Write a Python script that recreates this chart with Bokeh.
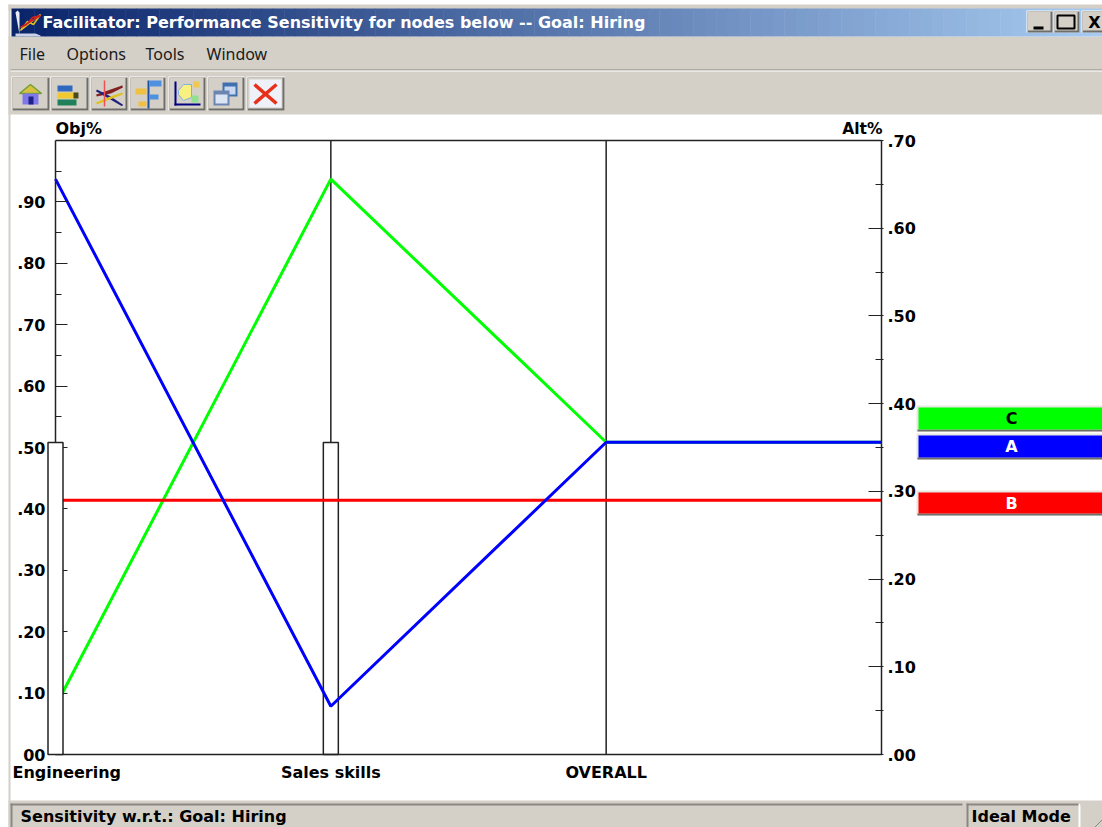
from bokeh.embed import file_html
from bokeh.resources import INLINE
from bokeh.plotting import figure
from bokeh.models import (BoxAnnotation, ColumnDataSource, FixedTicker, Label, LinearAxis,
                          PolyAnnotation, Range1d)

# ---- data ----
positions = [0, 1, 2, 3]
categories = ["Engineering", "Sales skills", "OVERALL"]
series_a = [0.656, 0.055, 0.356, 0.356]
series_b = [0.290, 0.290, 0.290, 0.290]
series_c = [0.055, 0.656, 0.356, 0.356]
bar_values = [0.508, 0.508]
obj_ticks = [0.0, 0.1, 0.2, 0.3, 0.4, 0.5, 0.6, 0.7, 0.8, 0.9]
obj_minor = [0.05, 0.15, 0.25, 0.35, 0.45, 0.55, 0.65, 0.75, 0.85, 0.95]
obj_labels = ["00", ".10", ".20", ".30", ".40", ".50", ".60", ".70", ".80", ".90"]
alt_ticks = [0.0, 0.1, 0.2, 0.3, 0.4, 0.5, 0.6, 0.7]
alt_minor = [0.05, 0.15, 0.25, 0.35, 0.45, 0.55, 0.65]
alt_labels = [".00", ".10", ".20", ".30", ".40", ".50", ".60", ".70"]
legend_names = ["C", "A", "B"]

GREY = "#d4d0c8"
BOLD = "DejaVu Sans"
W, H = 1102, 827
FX0, FX1, FY0, FY1 = 55, 881, 140, 754
PX = (FX1 - FX0) / 3
PY = FY1 - FY0

p = figure(width=W, height=H, output_backend="svg", toolbar_location=None,
           x_range=Range1d(-FX0 / PX, (W - FX0) / PX),
           y_range=Range1d(-(H - FY1) / PY, FY1 / PY),
           min_border=0, min_border_left=0, min_border_right=0,
           min_border_top=0, min_border_bottom=0,
           background_fill_color="white", border_fill_color="white",
           outline_line_color=None)
p.extra_y_ranges = {"alt": Range1d(-(H - FY1) / PY * 0.7, FY1 / PY * 0.7)}


def box(x0, y0, x1, y1, color):
    p.add_layout(BoxAnnotation(left=x0, right=x1, top=y0, bottom=y1,
                               left_units="canvas", right_units="canvas",
                               top_units="canvas", bottom_units="canvas",
                               fill_color=color, fill_alpha=1, line_color=None, line_alpha=0))


def poly(xs, ys, fill=None, line=None, lw=1.0):
    p.add_layout(PolyAnnotation(xs=list(xs), ys=list(ys),
                                xs_units="canvas", ys_units="canvas",
                                fill_color=fill, fill_alpha=1 if fill else 0,
                                line_color=line, line_alpha=1 if line else 0, line_width=lw))


def text(x, y, s, size=15, color="black", style="bold", align="left", font=BOLD, bg=None):
    p.add_layout(Label(x=x, y=y, x_units="canvas", y_units="canvas", text=s,
                       text_font=font, text_font_size=f"{size}px", text_font_style=style,
                       text_color=color, text_align=align, text_baseline="middle",
                       background_fill_color=bg, background_fill_alpha=1 if bg else 0))


def raised(x0, y0, x1, y1, face=GREY):
    box(x0, y0, x1, y1, "#ffffff")
    box(x0 + 1, y0 + 1, x1, y1, "#6f6d68")
    box(x0 + 1, y0 + 1, x1 - 2, y1 - 2, face)


# ---- window frame ----
box(8, 4, 1102, 10, GREY)
box(8, 4, 10, 827, GREY)
box(8, 36, 1102, 114, GREY)
box(10, 69, 1102, 70, "#8a8884")
box(10, 70, 1102, 71, "#ffffff")

# title bar gradient
N = 96
c0, c1 = (10, 36, 106), (166, 202, 240)
for i in range(N):
    t = i / (N - 1)
    col = "#%02x%02x%02x" % tuple(round(a + (b - a) * t) for a, b in zip(c0, c1))
    box(11 + (1102 - 11) * i / N, 8, 11 + (1102 - 11) * (i + 1) / N + 0.5, 36, col)

# title icon
poly([15, 35, 40, 40, 15], [33, 33, 35, 36, 36], fill="#c9d2e6")
poly([15, 17, 19, 19], [12, 10, 12, 34], fill="#e8ecf4")
poly([20, 27, 33, 40], [30, 21, 24, 14], line="#e0c020", lw=1.5)
poly([20, 26, 32, 40], [27, 24, 17, 15], line="#d02020", lw=1.5)
text(42, 22, "Facilitator: Performance Sensitivity for nodes below -- Goal: Hiring", 16, "white")

# window buttons
raised(1026, 10, 1052, 32)
box(1033, 26, 1043, 29, "#000000")
raised(1053, 10, 1079, 32)
poly([1057, 1074, 1074, 1057], [15, 15, 28, 28], line="#000000", lw=2)
raised(1081, 10, 1104, 32)
text(1094, 22, "X", 16, "black", align="center")

# menu
for x, s in [(19, "File"), (66, "Options"), (145, "Tools"), (206, "Window")]:
    text(x, 53, s, 16, "#1a1a1a", "normal", font="Noto Sans")

# toolbar buttons
for x0, x1 in [(11, 49), (50, 88), (90, 127), (129, 165), (168, 205), (207, 244), (246, 284)]:
    raised(x0, 76, x1, 110)
# home
poly([19, 30, 41], [93, 84, 93], fill="#d8c040", line="#70a030", lw=1.5)
poly([22, 38, 38, 22], [93, 93, 104, 104], fill="#8078e8")
box(28, 96, 33, 104, "#20208a")
# database
box(57, 85, 72, 91, "#3068c0")
box(57, 92, 76, 98, "#f0c830")
box(57, 99, 76, 105, "#20805a")
box(73, 92, 78, 98, "#4a4a20")
# crossing lines
poly([96, 110, 122], [95, 92, 86], line="#802020", lw=2)
poly([96, 110, 122], [90, 97, 105], line="#202080", lw=2)
poly([96, 110, 122], [103, 97, 93], line="#e0c020", lw=2)
poly([104, 104], [80, 106], line="#f05050", lw=1.5)
# tree
box(135, 88, 146, 94, "#f0c040")
box(138, 101, 146, 106, "#f0c040")
box(147, 80, 149, 108, "#2050a0")
box(149, 80, 161, 86, "#5090e0")
box(149, 94, 158, 99, "#5090e0")
# plot icon
box(174, 81, 176, 105, "#000080")
box(174, 103, 200, 105, "#000080")
poly([178, 183, 191, 191, 183, 178], [90, 84, 84, 97, 100, 94], fill="#f8f080", line="#80b0e0")
box(193, 81, 199, 87, "#f0c850")
box(191, 95, 198, 102, "#90e090")
# windows
box(222, 82, 237, 96, "#4070b0")
box(224, 86, 235, 94, "#c8d8f0")
box(213, 90, 229, 105, "#6a86b0")
box(215, 94, 227, 103, "#dbe4f2")
# close
box(249, 79, 281, 107, "#eef2f8")
poly([254, 276], [84, 103], line="#e83018", lw=3.5)
poly([276, 254], [84, 103], line="#e83018", lw=3.5)

# status bar
box(8, 800, 1102, 827, GREY)
box(10, 803, 962, 805, "#8a8884")
box(10, 803, 12, 827, "#8a8884")
box(966, 803, 1080, 805, "#8a8884")
box(966, 803, 968, 827, "#8a8884")
box(1078, 803, 1080, 827, "#ffffff")
text(20, 816, "Sensitivity w.r.t.: Goal: Hiring", 16)
text(971, 816, "Ideal Mode", 16)
poly([1094, 1102], [827, 819], line="#8a8884")

# ---- plot ----
p.grid.visible = False
xax = p.xaxis[0]
xax.fixed_location = 0
xax.bounds = (0, 3)
xax.ticker = FixedTicker(ticks=[1, 2])
xax.major_label_overrides = {1: categories[1], 2: categories[2]}
xax.major_tick_line_color = None
xax.minor_tick_line_color = None
xax.axis_line_color = "#222222"
xax.axis_line_width = 1.5
xax.major_label_standoff = 2
xax.major_label_text_font = BOLD
xax.major_label_text_font_style = "bold"
xax.major_label_text_font_size = "16px"
xax.major_label_text_color = "black"

yax = p.yaxis[0]
yax.fixed_location = 0
yax.bounds = (0, 1)
yax.ticker = FixedTicker(ticks=obj_ticks, minor_ticks=obj_minor)
yax.major_label_overrides = dict(zip(obj_ticks, obj_labels))
alt = LinearAxis(y_range_name="alt", fixed_location=3, bounds=(0, 0.7),
                 ticker=FixedTicker(ticks=alt_ticks, minor_ticks=alt_minor),
                 major_label_overrides=dict(zip(alt_ticks, alt_labels)))
p.add_layout(alt, "right")
for ax, tin, tout in [(yax, 12, 0), (alt, 13, 2)]:
    ax.axis_line_color = "#222222"
    ax.axis_line_width = 1.5
    ax.major_tick_in = tin
    ax.major_tick_out = tout
    ax.minor_tick_in = 6
    ax.minor_tick_out = tout
    ax.major_tick_line_color = "#222222"
    ax.minor_tick_line_color = "#222222"
    ax.major_label_text_font = BOLD
    ax.major_label_text_font_style = "bold"
    ax.major_label_text_font_size = "16px"
    ax.major_label_text_color = "black"
yax.major_label_standoff = 10
alt.major_label_standoff = 4

# top edge and vertical rules at the second and third node
p.segment(x0=[positions[0]], x1=[positions[3]], y0=[1], y1=[1], line_color="#222222", line_width=1.5)
p.segment(x0=positions[1:3], x1=positions[1:3], y0=[0, 0], y1=[1, 1], line_color="#222222", line_width=1.5)

# sensitivity bar under the lines (second node)
half = 7.5 / PX
p.quad(left=[positions[1] - half], right=[positions[1] + half], bottom=[0], top=[bar_values[1]],
       fill_color="white", line_color="#222222", line_width=1.5)

src = ColumnDataSource(dict(x=positions, a=series_a, b=series_b, c=series_c))
p.line("x", "c", source=src, y_range_name="alt", line_color="#00ff00", line_width=3)
p.line("x", "b", source=src, y_range_name="alt", line_color="#ff0000", line_width=3)
p.line("x", "a", source=src, y_range_name="alt", line_color="#0000ff", line_width=3)

# sensitivity bar over the lines and axis (first node)
p.add_layout(BoxAnnotation(left=positions[0] - half, right=positions[0] + half, bottom=0,
                           top=bar_values[0], fill_color="white", fill_alpha=1,
                           line_color="#222222", line_width=1.5, line_alpha=1, level="overlay"))

text(12, 772, categories[0], 16, bg="white")
text(55, 128, "Obj%", 16)
text(882, 128, "Alt%", 15.5, align="right")

# side legend buttons
for name, y0, y1, col, tc in [(legend_names[0], 407, 429, "#00ff00", "black"),
                              (legend_names[1], 435, 457, "#0000ff", "white"),
                              (legend_names[2], 492, 513, "#ff0000", "white")]:
    box(916, y0 - 2, 1102, y1 + 2, "#e8e6e0")
    box(917, y1, 1102, y1 + 2, "#6f6d68")
    box(918, y0, 1102, y1, col)
    text(1011, (y0 + y1) / 2, name, 16, tc, align="center")

open("out.html", "w").write(file_html(p, INLINE))
